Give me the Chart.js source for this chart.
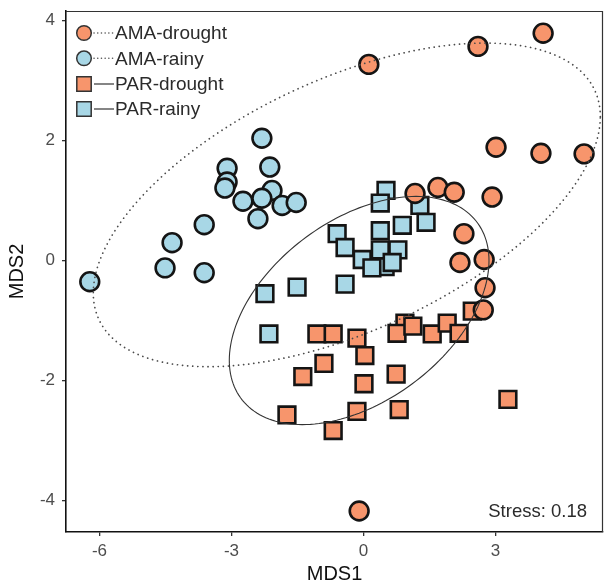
<!DOCTYPE html>
<html>
<head>
<meta charset="utf-8">
<script src="https://cdn.jsdelivr.net/npm/chart.js@4.4.1/dist/chart.umd.min.js"></script>
<style>
  body { margin: 0; background: #fff; }
  #wrap { width: 607px; height: 584px; }
</style>
</head>
<body>
<div id="wrap"><canvas id="myChart-nmds" width="607" height="584"></canvas></div>
<script>
// NMDS scores, [MDS1, MDS2]
const amaDrought = [
  [0.12, 3.27], [2.60, 3.57], [4.08, 3.79], [3.01, 1.89], [4.03, 1.79], [5.01, 1.78],
  [1.17, 1.12], [1.69, 1.22], [2.06, 1.14], [2.92, 1.06], [2.28, 0.45], [2.19, -0.03],
  [2.74, 0.02], [2.76, -0.45], [2.72, -0.82], [-0.10, -4.17],
];
const amaRainy = [
  [-2.31, 2.04], [-2.13, 1.56], [-3.10, 1.54], [-3.10, 1.31], [-3.15, 1.21], [-2.08, 1.17],
  [-2.74, 0.99], [-2.31, 1.04], [-1.85, 0.92], [-1.53, 0.97], [-2.40, 0.70], [-3.62, 0.60],
  [-4.35, 0.30], [-4.51, -0.12], [-3.62, -0.20], [-6.22, -0.35],
];
const parDrought = [
  [-1.06, -1.22], [-0.69, -1.22], [-0.15, -1.29], [0.03, -1.58], [-0.90, -1.71], [-1.38, -1.93],
  [0.01, -2.05], [-1.74, -2.57], [-0.15, -2.51], [-0.69, -2.83], [0.94, -1.04], [0.76, -1.21],
  [1.12, -1.09], [1.56, -1.22], [1.90, -1.04], [2.17, -1.21], [2.47, -0.84], [0.74, -1.89],
  [0.81, -2.48], [3.28, -2.31],
];
const parRainy = [
  [0.51, 1.17], [0.38, 0.96], [1.28, 0.92], [1.42, 0.64], [-0.60, 0.45], [0.38, 0.50],
  [0.88, 0.59], [-0.42, 0.22], [-0.03, 0.02], [0.38, 0.18], [0.78, 0.18], [0.49, -0.10],
  [0.19, -0.12], [0.65, -0.03], [-0.42, -0.39], [-1.51, -0.44], [-2.24, -0.55], [-2.15, -1.22],
];
const seriesNames = ["AMA-drought", "AMA-rainy", "PAR-drought", "PAR-rainy"];

// ellipses: centre, then two conjugate half-diameters (data units)
const ellipseAMA = [-0.38, 0.93, 5.76, 1.47, 0, 2.26];
const ellipsePAR = [-0.10, -0.83, 2.95, 0.83, 0, 1.71];

const xTickValues = [-6, -3, 0, 3];
const yTickValues = [-4, -2, 0, 2, 4];
const stressLabel = "Stress: 0.18";

const orange = "#F7956C";
const blue = "#A8D7E6";
const edge = "#141414";

const toXY = (arr) => arr.map(([x, y]) => ({ x, y }));

function drawEllipse(chart, e, dotted) {
  const { ctx, scales: { x, y }, chartArea } = chart;
  const [cx, cy, ux, uy, vx, vy] = e;
  ctx.save();
  ctx.beginPath();
  ctx.rect(chartArea.left, chartArea.top, chartArea.right - chartArea.left, chartArea.bottom - chartArea.top);
  ctx.clip();
  ctx.beginPath();
  for (let i = 0; i <= 180; i++) {
    const t = (i / 180) * Math.PI * 2;
    const px = x.getPixelForValue(cx + ux * Math.cos(t) + vx * Math.sin(t));
    const py = y.getPixelForValue(cy + uy * Math.cos(t) + vy * Math.sin(t));
    if (i === 0) ctx.moveTo(px, py); else ctx.lineTo(px, py);
  }
  if (dotted) {
    ctx.setLineDash([0.1, 5]);
    ctx.lineCap = "round";
    ctx.lineWidth = 1.7;
    ctx.strokeStyle = "#4a4a4a";
  } else {
    ctx.lineWidth = 1.1;
    ctx.strokeStyle = "#333";
  }
  ctx.stroke();
  ctx.restore();
}

const extras = {
  id: "extras",
  afterDatasetsDraw(chart) {
    drawEllipse(chart, ellipseAMA, true);
    drawEllipse(chart, ellipsePAR, false);
  },
  afterDraw(chart) {
    const { ctx, chartArea: a } = chart;
    ctx.save();
    // panel border (top / right)
    ctx.strokeStyle = "#333";
    ctx.lineWidth = 1.2;
    ctx.beginPath();
    ctx.moveTo(a.left, a.top + 0.5);
    ctx.lineTo(a.right - 0.5, a.top + 0.5);
    ctx.lineTo(a.right - 0.5, a.bottom);
    ctx.stroke();

    // legend
    const fills = [orange, blue, orange, blue];
    const rowY = [a.top + 22, a.top + 47.3, a.top + 73, a.top + 98];
    const mx = a.left + 18;
    ctx.font = "19px 'Liberation Sans', Arial, sans-serif";
    ctx.textBaseline = "middle";
    ctx.textAlign = "left";
    seriesNames.forEach((name, i) => {
      const yy = rowY[i];
      const dotted = i < 2;
      ctx.save();
      ctx.strokeStyle = dotted ? "#555" : "#333";
      ctx.lineWidth = dotted ? 1.5 : 1.2;
      if (dotted) { ctx.setLineDash([0.1, 3.6]); ctx.lineCap = "round"; }
      ctx.beginPath();
      ctx.moveTo(mx + 10, yy);
      ctx.lineTo(mx + 30, yy);
      ctx.stroke();
      ctx.restore();
      ctx.fillStyle = fills[i];
      ctx.strokeStyle = "#333";
      ctx.lineWidth = 1.5;
      ctx.beginPath();
      if (i < 2) ctx.arc(mx, yy, 7.3, 0, Math.PI * 2);
      else ctx.rect(mx - 7.2, yy - 7.2, 14.4, 14.4);
      ctx.fill();
      ctx.stroke();
      ctx.fillStyle = "#2b2b2b";
      ctx.fillText(name, mx + 31, yy + 1);
    });

    // stress annotation
    ctx.font = "18.5px 'Liberation Sans', Arial, sans-serif";
    ctx.textAlign = "right";
    ctx.textBaseline = "alphabetic";
    ctx.fillStyle = "#2b2b2b";
    ctx.fillText(stressLabel, a.right - 16, a.bottom - 15);
    ctx.restore();
  },
};

const tickFont = { family: "'Liberation Sans', Arial, sans-serif", size: 17 };
const titleFont = { family: "'Liberation Sans', Arial, sans-serif", size: 20, lineHeight: 1 };

new Chart(document.getElementById("myChart-nmds"), {
  type: "scatter",
  data: {
    datasets: [
      { label: seriesNames[0], data: toXY(amaDrought), pointStyle: "circle", pointRadius: 9.4,
        backgroundColor: orange, borderColor: edge, borderWidth: 2.6 },
      { label: seriesNames[1], data: toXY(amaRainy), pointStyle: "circle", pointRadius: 9.4,
        backgroundColor: blue, borderColor: edge, borderWidth: 2.6 },
      { label: seriesNames[2], data: toXY(parDrought), pointStyle: "rect", pointRadius: 11.8,
        backgroundColor: orange, borderColor: edge, borderWidth: 2.6 },
      { label: seriesNames[3], data: toXY(parRainy), pointStyle: "rect", pointRadius: 11.8,
        backgroundColor: blue, borderColor: edge, borderWidth: 2.6 },
    ],
  },
  options: {
    responsive: false,
    animation: false,
    events: [],
    layout: { autoPadding: false, padding: { top: 11, right: 4, left: 0, bottom: 0 } },
    plugins: { legend: { display: false }, tooltip: { enabled: false } },
    scales: {
      x: {
        type: "linear",
        min: -6.76,
        max: 5.44,
        afterBuildTicks: (s) => { s.ticks = xTickValues.map((v) => ({ value: v })); },
        afterFit: (s) => { s.height = 52; s.paddingLeft = 0; s.paddingRight = 0; },
        grid: { drawOnChartArea: false, drawTicks: true, tickLength: 4, color: "#333", lineWidth: 1.3 },
        border: { display: true, color: "#111", width: 1.6 },
        ticks: { font: tickFont, color: "#4d4d4d", padding: 5, maxRotation: 0 },
        title: { display: true, text: "MDS1", color: "#111", font: titleFont,
          padding: { top: 0, bottom: 0 } },
      },
      y: {
        type: "linear",
        min: -4.52,
        max: 4.16,
        afterBuildTicks: (s) => { s.ticks = yTickValues.map((v) => ({ value: v })); },
        afterFit: (s) => { s.width = 66; s.paddingTop = 0; s.paddingBottom = 0; },
        grid: { drawOnChartArea: false, drawTicks: true, tickLength: 4, color: "#333", lineWidth: 1.3 },
        border: { display: true, color: "#111", width: 1.6 },
        ticks: { font: tickFont, color: "#4d4d4d", padding: 7 },
        title: { display: true, text: "MDS2", color: "#111", font: titleFont,
          padding: { top: 7, bottom: 0 } },
      },
    },
  },
  plugins: [extras],
});
</script>
</body>
</html>
